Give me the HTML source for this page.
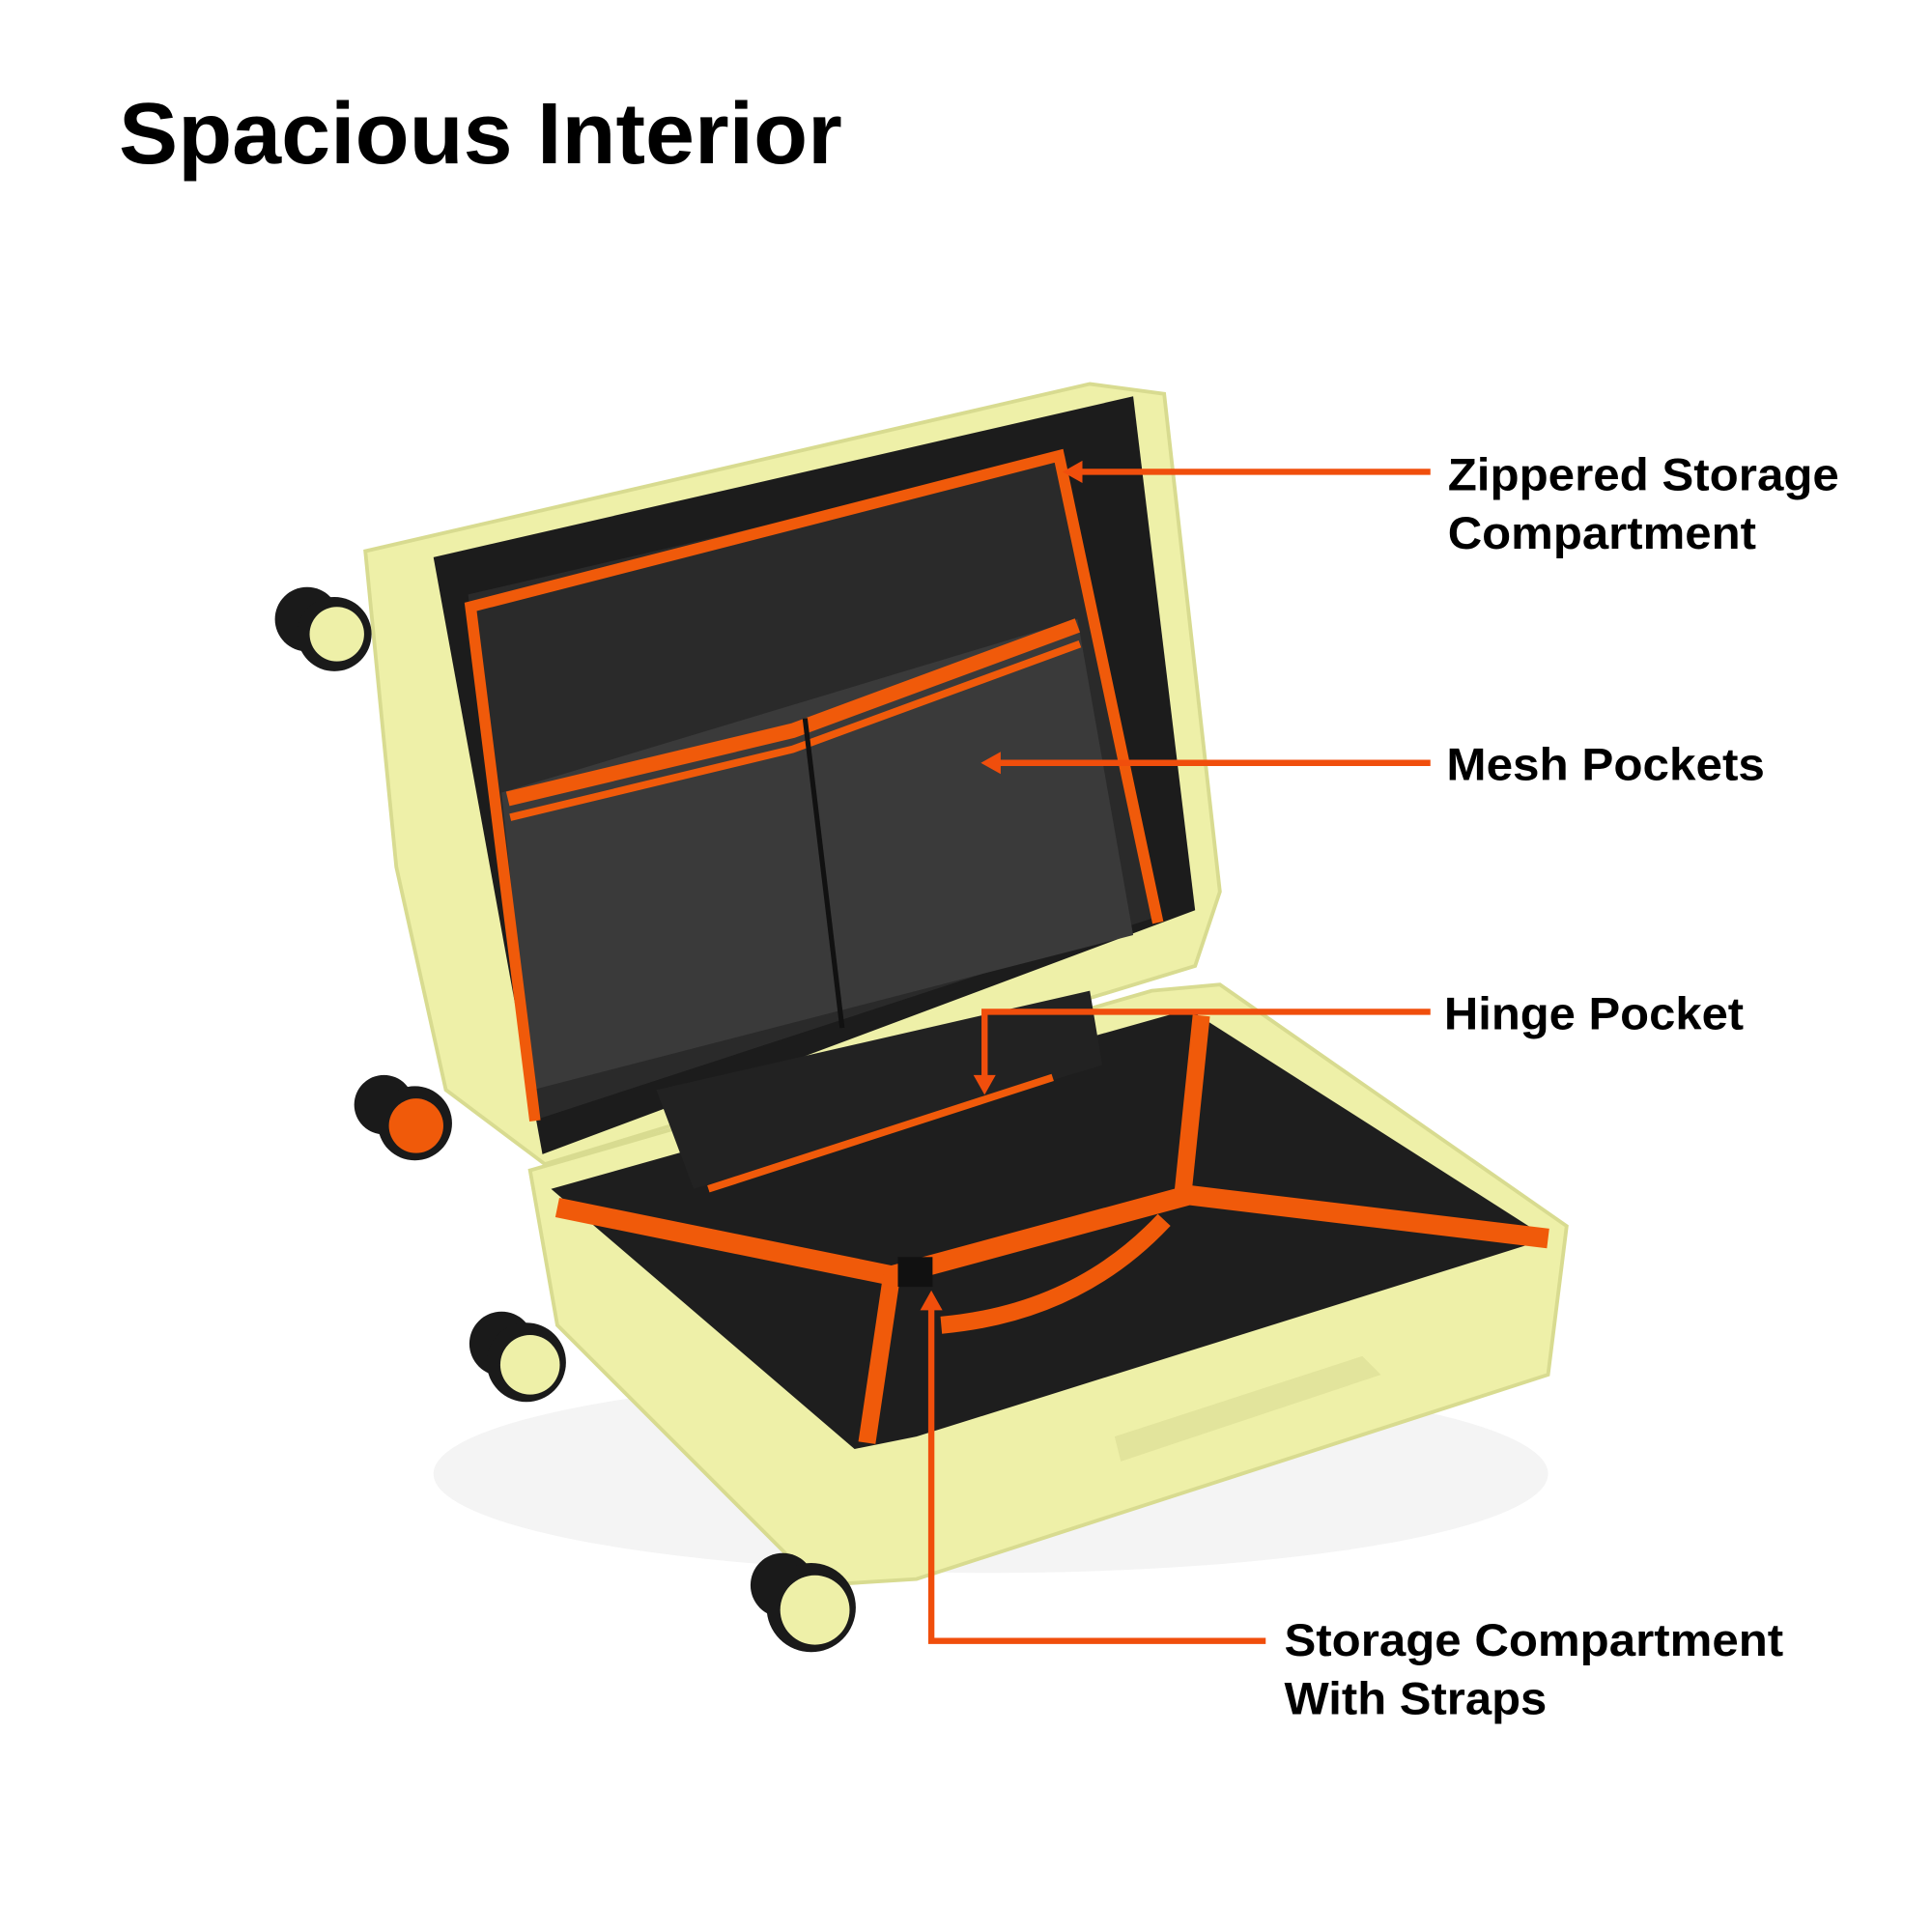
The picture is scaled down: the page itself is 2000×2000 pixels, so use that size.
<!DOCTYPE html>
<html><head><meta charset="utf-8"><style>
html,body{margin:0;padding:0;background:#fff;}
svg{display:block;}
text{font-family:"Liberation Sans",sans-serif;fill:#000;}
</style></head><body>
<svg width="2000" height="2000" viewBox="0 0 1560 1560" xmlns="http://www.w3.org/2000/svg">
<rect width="1560" height="1560" fill="#fff"/>
<text x="96" y="132" font-size="70" font-weight="bold" textLength="584" lengthAdjust="spacingAndGlyphs">Spacious Interior</text>

<ellipse cx="800" cy="1190" rx="450" ry="80" fill="#f4f4f4"/>

<!-- lid -->
<polygon points="295,445 880,310 940,318 985,720 965,780 440,940 360,880 320,700" fill="#eef0a8" stroke="#d8db90" stroke-width="3"/>
<polygon points="350,450 915,320 965,735 438,932" fill="#1c1c1c"/>
<polygon points="378,480 860,368 935,740 430,905" fill="#2a2a2a"/>
<polygon points="405,640 870,500 915,755 430,880" fill="#3a3a3a"/>
<polyline points="432,905 380,490 855,368 935,745" fill="none" stroke="#f05a0a" stroke-width="9"/>
<polyline points="410,645 640,590 870,505" fill="none" stroke="#f05a0a" stroke-width="12"/>
<polyline points="412,660 640,605 872,520" fill="none" stroke="#f05a0a" stroke-width="6"/>
<line x1="650" y1="580" x2="680" y2="830" stroke="#111" stroke-width="4"/>

<!-- lower body -->
<polygon points="428,945 930,800 985,795 1265,990 1250,1110 740,1275 660,1280 450,1070" fill="#eef0a8" stroke="#d8db90" stroke-width="3"/>
<polygon points="445,960 960,815 1250,1000 740,1160 690,1170" fill="#1e1e1e"/>
<polygon points="530,880 880,800 890,860 560,960" fill="#222"/>
<line x1="572" y1="960" x2="850" y2="870" stroke="#f05a0a" stroke-width="6"/>
<polyline points="450,975 720,1030 960,965 1250,1000" fill="none" stroke="#f05a0a" stroke-width="16"/>
<polyline points="970,820 955,965" fill="none" stroke="#f05a0a" stroke-width="14"/>
<polyline points="720,1030 700,1165" fill="none" stroke="#f05a0a" stroke-width="14"/>
<path d="M760,1070 Q870,1060 940,985" fill="none" stroke="#f05a0a" stroke-width="14"/>
<rect x="725" y="1015" width="28" height="24" fill="#111"/>
<path d="M900,1160 L1100,1095 L1115,1110 L905,1180 Z" fill="#e2e49c"/>

<g fill="#1a1a1a">
<circle cx="248" cy="500" r="26"/><circle cx="270" cy="512" r="30"/>
<circle cx="310" cy="892" r="24"/><circle cx="335" cy="907" r="30"/>
<circle cx="405" cy="1085" r="26"/><circle cx="425" cy="1100" r="32"/>
<circle cx="632" cy="1280" r="26"/><circle cx="655" cy="1298" r="36"/>
</g>
<circle cx="272" cy="512" r="22" fill="#eef0a8"/>
<circle cx="336" cy="909" r="22" fill="#f05a0a"/>
<circle cx="428" cy="1102" r="24" fill="#eef0a8"/>
<circle cx="658" cy="1300" r="28" fill="#eef0a8"/>

<g stroke="#f04e0c" stroke-width="5" fill="none">
<line x1="1155" y1="381" x2="866" y2="381"/>
<line x1="1155" y1="616" x2="800" y2="616"/>
<polyline points="1155,817 795,817 795,875"/>
<polyline points="1022,1325 752,1325 752,1050"/>
</g>
<g fill="#f04e0c">
<polygon points="858,381 874,372 874,390"/>
<polygon points="792,616 808,607 808,625"/>
<polygon points="795,884 786,868 804,868"/>
<polygon points="752,1042 743,1058 761,1058"/>
</g>

<g font-size="37" font-weight="bold">
<text x="1169" y="396" textLength="316" lengthAdjust="spacingAndGlyphs">Zippered Storage</text>
<text x="1169" y="443" textLength="249" lengthAdjust="spacingAndGlyphs">Compartment</text>
<text x="1168" y="630" textLength="257" lengthAdjust="spacingAndGlyphs">Mesh Pockets</text>
<text x="1166" y="831" textLength="242" lengthAdjust="spacingAndGlyphs">Hinge Pocket</text>
<text x="1037" y="1337" textLength="403" lengthAdjust="spacingAndGlyphs">Storage Compartment</text>
<text x="1037" y="1384" textLength="212" lengthAdjust="spacingAndGlyphs">With Straps</text>
</g>
</svg>
</body></html>
